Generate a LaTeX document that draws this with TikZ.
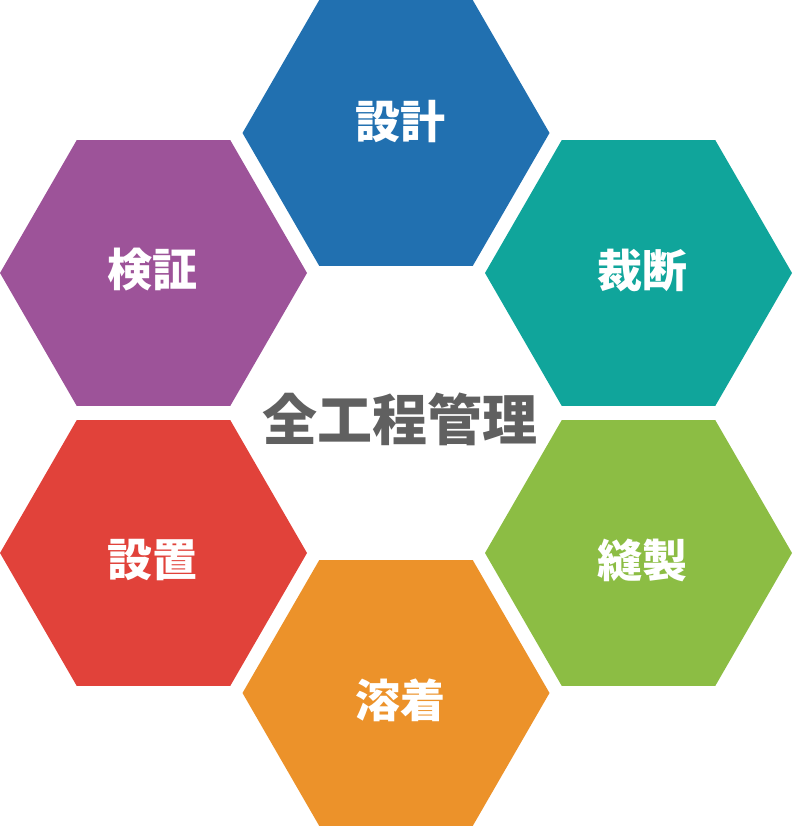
\documentclass[tikz,border=0pt]{standalone}
\usepackage{fontspec}
\newfontfamily\cjk{Noto Sans CJK JP}
\usetikzlibrary{shapes.geometric}
\definecolor{hexblue}{HTML}{2170B0}
\definecolor{hexteal}{HTML}{10A59B}
\definecolor{hexpurple}{HTML}{9D5399}
\definecolor{hexred}{HTML}{E1423A}
\definecolor{hexgreen}{HTML}{8CBD44}
\definecolor{hexorange}{HTML}{EC922A}
\definecolor{titlegray}{HTML}{606060}
\tikzset{
  hexa/.style={regular polygon, regular polygon sides=6,
    minimum size=307pt, inner sep=0pt, outer sep=0pt, draw=none, fill=#1},
  hexlabel/.style={text=white, inner sep=0pt, font=\cjk\bfseries\fontsize{45}{50}\selectfont},
  titlelabel/.style={text=titlegray, inner sep=0pt, font=\cjk\bfseries\fontsize{55}{60}\selectfont}
}
\begin{document}
\begin{tikzpicture}[x=1pt,y=-1pt]
\useasboundingbox (0,0) rectangle (792,826);
\node[hexa=hexblue]   (h1) at (396,133)   {};
\node[hexa=hexteal]   (h2) at (638.5,273) {};
\node[hexa=hexgreen]  (h3) at (638.5,553) {};
\node[hexa=hexorange] (h4) at (396,693)   {};
\node[hexa=hexred]    (h5) at (153.5,553) {};
\node[hexa=hexpurple] (h6) at (153.5,273) {};
\node[hexlabel] (t1) at (400,122) {設計};
\node[hexlabel] (t2) at (642,271) {裁断};
\node[hexlabel] (t3) at (642,560) {縫製};
\node[hexlabel] (t4) at (400,700) {溶着};
\node[hexlabel] (t5) at (152,560) {設置};
\node[hexlabel] (t6) at (152,270) {検証};
\node[titlelabel] (title) at (400,419) {全工程管理};
\end{tikzpicture}
\end{document}
